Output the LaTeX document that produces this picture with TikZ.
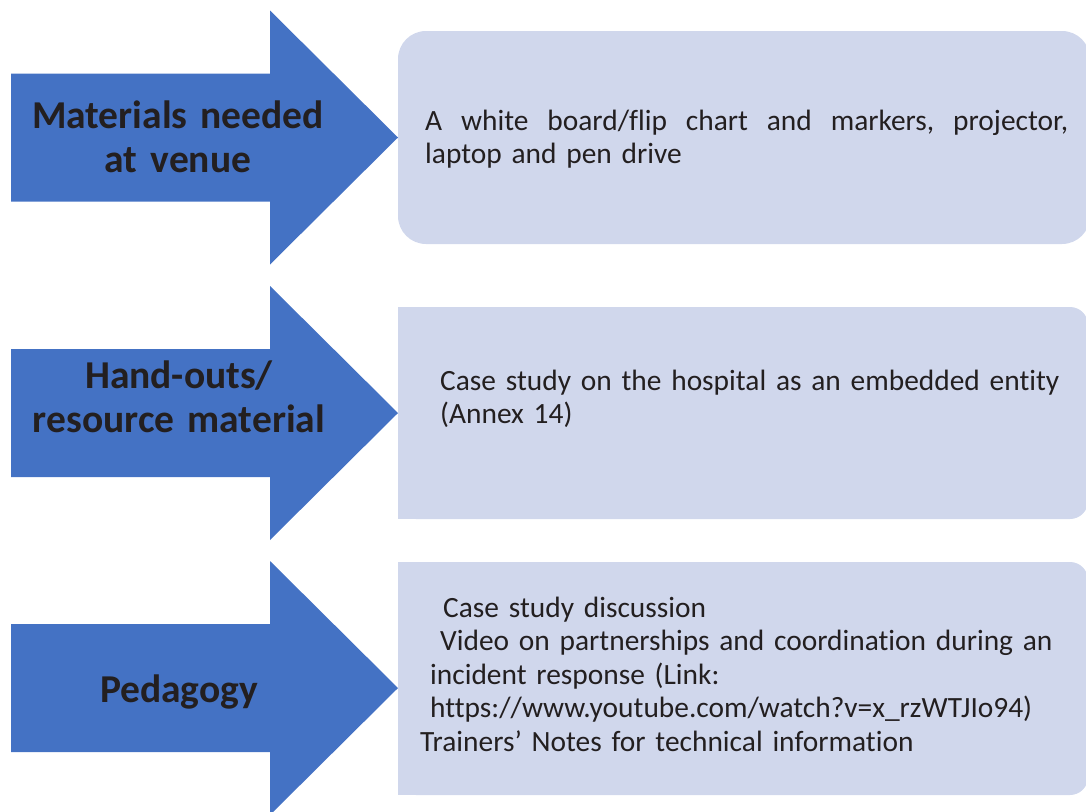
\documentclass[tikz,border=0pt]{standalone}
\usepackage{fontspec}
\setmainfont{Carlito}[Ligatures={NoCommon}]
\usetikzlibrary{calc}
\definecolor{arrowblue}{HTML}{4472C4}
\definecolor{boxlilac}{HTML}{D0D7EC}
\definecolor{inktext}{HTML}{231F20}
\newcommand\DrawBlockArrow[2]{% name of tip, centre line
  \fill[arrowblue] (\xTail,#2-\ShaftH) -- (\xNeck,#2-\ShaftH) -- (\xNeck,#2-\HeadH)
    -- (\xTip,#2) coordinate (#1) -- (\xNeck,#2+\HeadH) -- (\xNeck,#2+\ShaftH)
    -- (\xTail,#2+\ShaftH) -- cycle;
}
\newcommand\DrawHalfRound[3]{% top, bottom, right edge
  \fill[boxlilac,rounded corners=18] (\xBox,#1) rectangle (#3,#2);
  \fill[boxlilac] (\xBox,#1) rectangle (700,#2); % square left corners
}
\tikzset{%
  arrow label/.style={inner sep=0pt,text=inktext,text width=320pt,align=center,
    anchor=base,font=\fontsize{39.5}{44}\selectfont\bfseries},
  box text/.style={inner sep=0pt,text=inktext,anchor=base west,
    font=\fontsize{29.4}{33.5}\selectfont}
}
\begin{document}
\begin{tikzpicture}[x=1pt,y=-1pt]

%% some definitions

\def\xTail{11}   % back of the arrows
\def\xNeck{270}  % where the head starts
\def\xTip{398}   % point of the head
\def\ShaftH{64}  % half height of shaft
\def\HeadH{127}  % half height of head
\def\xBox{398}   % left side of the boxes

\useasboundingbox (0,0) rectangle (1086,811);

%% boxes on the right

\fill[boxlilac,rounded corners=28] (\xBox,31) rectangle (1090,244);
\DrawHalfRound{307}{519}{1088}
\DrawHalfRound{562}{795}{1088}

%% block arrows

\DrawBlockArrow{tipA}{137.5}
\DrawBlockArrow{tipB}{413}
\DrawBlockArrow{tipC}{688}

%% labels

\node[arrow label] (materials) at (178,128) {Materials needed\\at venue};
\node[arrow label] (handouts) at (179,388) {Hand-outs/\\resource material};
\node[arrow label] (pedagogy) at (179,702) {Pedagogy};

\node[box text,text width=643pt,align=left] (venue) at (425,130)
  {\makebox[643pt][l]{A\hfill white\hfill board/flip\hfill chart\hfill and\hfill
     markers,\hfill projector,}\\
   laptop and pen drive};
\node[box text,text width=640pt,align=left] (resource) at (440,390)
  {Case study on the hospital as an embedded entity\\(Annex 14)};
\node[box text,text width=660pt,align=left] (method) at (420,617)
  {\hspace*{23pt}Case study discussion\\
   \hspace*{20pt}Video on partnerships and coordination during an\\
   \hspace*{10pt}incident response (Link:\\
   \hspace*{10pt}https://www.youtube.com/watch?v=x\_rzWTJIo94)\\
   Trainers’ Notes for technical information};
\end{tikzpicture}
\end{document}
